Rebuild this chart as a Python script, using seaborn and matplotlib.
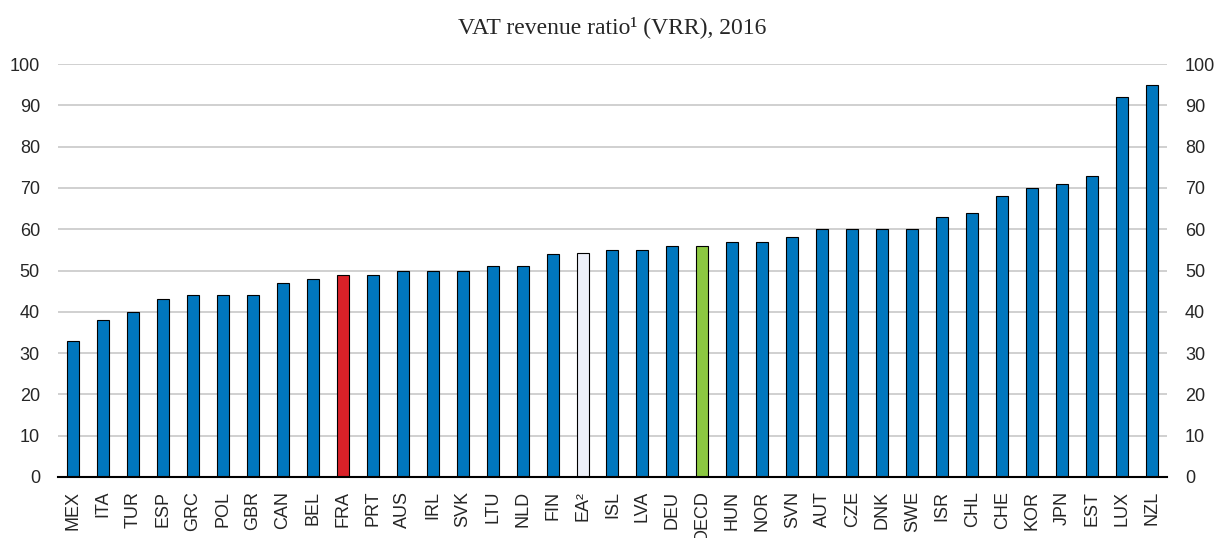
import pandas as pd
import matplotlib
matplotlib.use("Agg")
import matplotlib.pyplot as plt
import seaborn as sns
import numpy as np

countries = ["MEX", "ITA", "TUR", "ESP", "GRC", "POL", "GBR", "CAN", "BEL", "FRA",
             "PRT", "AUS", "IRL", "SVK", "LTU", "NLD", "FIN", "EA²", "ISL", "LVA",
             "DEU", "OECD", "HUN", "NOR", "SVN", "AUT", "CZE", "DNK", "SWE", "ISR",
             "CHL", "CHE", "KOR", "JPN", "EST", "LUX", "NZL"]
vrr = [33, 38, 40, 43, 44, 44, 44, 47, 48, 49,
       49, 50, 50, 50, 51, 51, 54, 54.2, 55, 55,
       56, 56, 57, 57, 58, 60, 60, 60, 60, 63,
       64, 68, 70, 71, 73, 92, 95]

blue = "#0077BE"
special = {"FRA": "#DA2128", "EA²": "#EDF0F9", "OECD": "#8CC841"}
colors = [special.get(c, blue) for c in countries]

df = pd.DataFrame({"country": countries, "vrr": vrr})

sns.set_style("white")
plt.rcParams["font.family"] = ["Liberation Sans", "DejaVu Sans"]

fig = plt.figure(figsize=(12.15, 5.38), dpi=100)
ax = fig.add_axes([0.0477, 0.1134, 0.9128, 0.7676])

sns.barplot(data=df, x="country", y="vrr", hue="country", palette=colors,
            width=0.4, edgecolor="black", linewidth=0.8, legend=False,
            saturation=1, ax=ax, zorder=3)

ax.set_ylim(0, 100)
ax.set_xlim(-0.5, len(countries) - 0.5)
ax.set_yticks(np.arange(0, 101, 10))
ax.yaxis.grid(True, color="#C8C8C8", linewidth=1.2, zorder=0)
ax.set_axisbelow(True)

for s in ["top", "left", "right"]:
    ax.spines[s].set_visible(False)
ax.spines["bottom"].set_color("black")
ax.spines["bottom"].set_linewidth(1.5)
ax.spines["bottom"].set_zorder(5)

ax.set_xticks(np.arange(-0.5, len(countries), 1), minor=True)
ax.tick_params(axis="x", which="major", length=0, pad=10, rotation=90, labelsize=13)
ax.tick_params(axis="x", which="minor", direction="in", length=5, width=1.2, color="black")
ax.tick_params(axis="y", which="both", length=0, labelsize=13, labelleft=True,
               labelright=True, pad=13)
for lab in ax.get_xticklabels():
    lab.set_va("top")

ax.set_xlabel("")
ax.set_ylabel("")
ax.set_title("VAT revenue ratio¹ (VRR), 2016", family=["Liberation Serif", "DejaVu Serif"],
             fontsize=17, pad=22)

fig.savefig("out.png", dpi=100)
